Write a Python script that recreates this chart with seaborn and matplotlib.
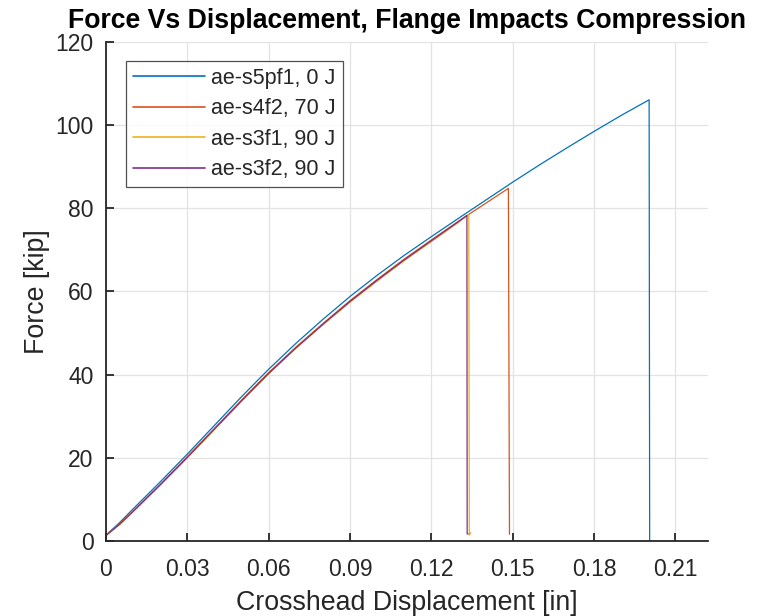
import matplotlib
matplotlib.use("Agg")
import matplotlib.pyplot as plt
import seaborn as sns
import pandas as pd

# Crosshead displacement [in] and force [kip] for each specimen
s5pf1_x = [0, 0.005, 0.01, 0.02, 0.03, 0.04, 0.05, 0.06, 0.07, 0.08, 0.09, 0.10,
           0.11, 0.12, 0.13, 0.14, 0.15, 0.16, 0.17, 0.18, 0.19, 0.2003, 0.2005]
s5pf1_y = [1.4, 4.4, 7.7, 14.2, 20.9, 27.8, 34.7, 41.3, 47.5, 53.3, 58.8, 63.9,
           68.7, 73.2, 77.6, 81.95, 86.3, 90.5, 94.55, 98.5, 102.35, 106.1, 0.0]

s4f2_x = [0, 0.005, 0.01, 0.02, 0.03, 0.04, 0.05, 0.06, 0.07, 0.08, 0.09, 0.10,
          0.11, 0.12, 0.13, 0.14, 0.1484, 0.1488]
s4f2_y = [1.4, 4.1, 7.2, 13.6, 20.3, 27.1, 33.9, 40.5, 46.6, 52.3, 57.8, 62.9,
          67.8, 72.4, 76.9, 81.2, 84.8, 1.6]

s3f1_x = [0, 0.005, 0.01, 0.02, 0.03, 0.04, 0.05, 0.06, 0.07, 0.08, 0.09, 0.10,
          0.11, 0.12, 0.13, 0.1338, 0.1340, 0.1346]
s3f1_y = [1.3, 3.9, 7.0, 13.4, 20.0, 26.8, 33.6, 40.2, 46.3, 52.0, 57.4, 62.5,
          67.4, 72.0, 76.6, 78.5, 1.4, 2.0]

s3f2_x = [0, 0.005, 0.01, 0.02, 0.03, 0.04, 0.05, 0.06, 0.07, 0.08, 0.09, 0.10,
          0.11, 0.12, 0.13, 0.1331, 0.1332, 0.1336]
s3f2_y = [1.3, 4.0, 7.1, 13.5, 20.1, 26.9, 33.7, 40.3, 46.4, 52.1, 57.6, 62.7,
          67.6, 72.2, 76.8, 78.3, 1.7, 1.7]

labels = ["ae-s5pf1, 0 J", "ae-s4f2, 70 J", "ae-s3f1, 90 J", "ae-s3f2, 90 J"]
colors = ["#0072BD", "#D95319", "#EDB120", "#7E2F8E"]

xticks = [0, 0.03, 0.06, 0.09, 0.12, 0.15, 0.18, 0.21]
xtick_labels = ["0", "0.03", "0.06", "0.09", "0.12", "0.15", "0.18", "0.21"]
yticks = [0, 20, 40, 60, 80, 100, 120]

series = [(s5pf1_x, s5pf1_y), (s4f2_x, s4f2_y), (s3f1_x, s3f1_y), (s3f2_x, s3f2_y)]
frames = []
for lab, (xs, ys) in zip(labels, series):
    frames.append(pd.DataFrame({"disp": xs, "force": ys, "specimen": lab}))
df = pd.concat(frames, ignore_index=True)

sns.set_style("white")
plt.rcParams["font.family"] = ["Liberation Sans", "DejaVu Sans"]

fig = plt.figure(figsize=(7.58, 6.16), dpi=100)
ax = fig.add_axes([0.1398, 0.1218, 0.7942, 0.81])

sns.lineplot(data=df, x="disp", y="force", hue="specimen", hue_order=labels,
             palette=colors, estimator=None, sort=False, units="specimen",
             linewidth=0.9, ax=ax)

ax.set_xlim(0, 0.222)
ax.set_ylim(0, 120)
ax.set_xticks(xticks)
ax.set_xticklabels(xtick_labels)
ax.set_yticks(yticks)
ax.grid(True, color="#e3e3e3", linewidth=0.9)
ax.set_axisbelow(True)

for side in ["top", "right"]:
    ax.spines[side].set_visible(False)
for side in ["left", "bottom"]:
    ax.spines[side].set_color("#262626")
    ax.spines[side].set_linewidth(1.3)

ax.tick_params(axis="both", direction="in", length=6, width=1.3,
               color="#262626", labelsize=16.5, labelcolor="#262626")
ax.tick_params(axis="x", bottom=True, pad=12)
ax.tick_params(axis="y", left=True, pad=9)

ax.set_xlabel("Crosshead Displacement [in]", fontsize=19.3, color="#262626", labelpad=7)
ax.set_ylabel("Force [kip]", fontsize=19.3, color="#262626", labelpad=4)
ax.set_title("Force Vs Displacement, Flange Impacts Compression",
             fontsize=19.2, fontweight="bold", color="black", pad=10)

leg = ax.legend(loc="upper left", bbox_to_anchor=(0.0327, 0.962), fontsize=15.5,
                frameon=True, fancybox=False, edgecolor="#262626",
                borderaxespad=0, handlelength=3.35, handletextpad=0.3,
                borderpad=0.32, labelspacing=0.44)
leg.get_frame().set_linewidth(0.9)
for line in leg.get_lines():
    line.set_linewidth(1.2)

fig.savefig("out.png", dpi=100)
